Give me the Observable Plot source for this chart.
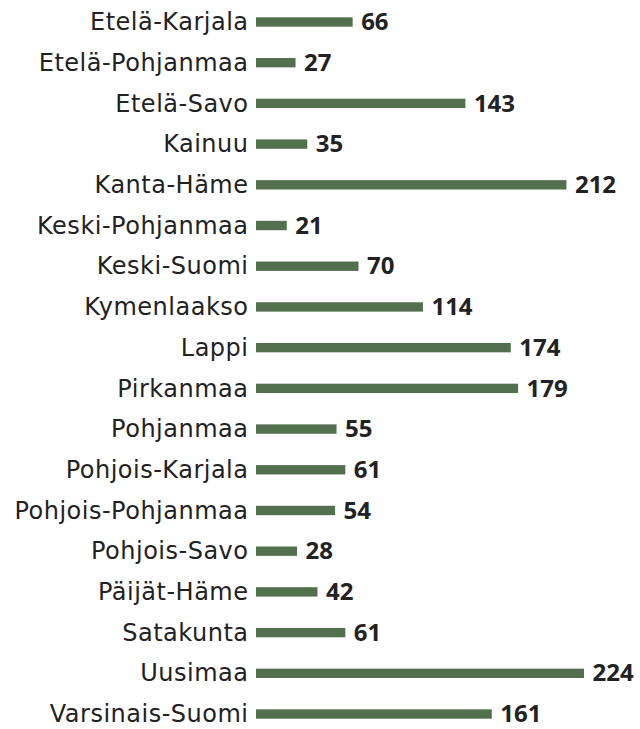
<!DOCTYPE html>
<html><head><meta charset="utf-8">
<script src="https://cdn.jsdelivr.net/npm/d3@7"></script>
<script src="https://cdn.jsdelivr.net/npm/@observablehq/plot@0.6"></script>
<style>
body{margin:0;background:#fff;} svg{display:block;}
g[aria-label="y-axis tick label"] text{letter-spacing:0.5px;}
</style>
</head><body>
<div id="chart"></div>
<script>
const regions = ["Etelä-Karjala","Etelä-Pohjanmaa","Etelä-Savo","Kainuu","Kanta-Häme","Keski-Pohjanmaa","Keski-Suomi","Kymenlaakso","Lappi","Pirkanmaa","Pohjanmaa","Pohjois-Karjala","Pohjois-Pohjanmaa","Pohjois-Savo","Päijät-Häme","Satakunta","Uusimaa","Varsinais-Suomi"];
const values = [66,27,143,35,212,21,70,114,174,179,55,61,54,28,42,61,224,161];
const data = regions.map((r,i)=>({region:r, value:values[i]}));
const chart = Plot.plot({
  width: 640, height: 729,
  marginLeft: 256, marginRight: 56, marginTop: 17.3, marginBottom: 10.3,
  style: {fontFamily: "'DejaVu Sans', sans-serif", fontSize: "24px", color: "#222", background: "#fff"},
  x: {domain: [0, 224], axis: null},
  y: {domain: regions, paddingInner: 0.77, paddingOuter: 0, round: false, label: null},
  marks: [
    Plot.axisY({tickSize: 0, tickPadding: 8, fontSize: 24, fill: "#222", label: null}),
    Plot.barX(data, {y: "region", x: "value", fill: "#53704e"}),
    Plot.text(data, {y: "region", x: "value", text: d => String(d.value), textAnchor: "start", dx: 8, fontFamily: "'Open Sans', sans-serif", fontWeight: 700, fontSize: 24, fill: "#222"})
  ]
});
document.getElementById("chart").append(chart);
</script>
</body></html>
